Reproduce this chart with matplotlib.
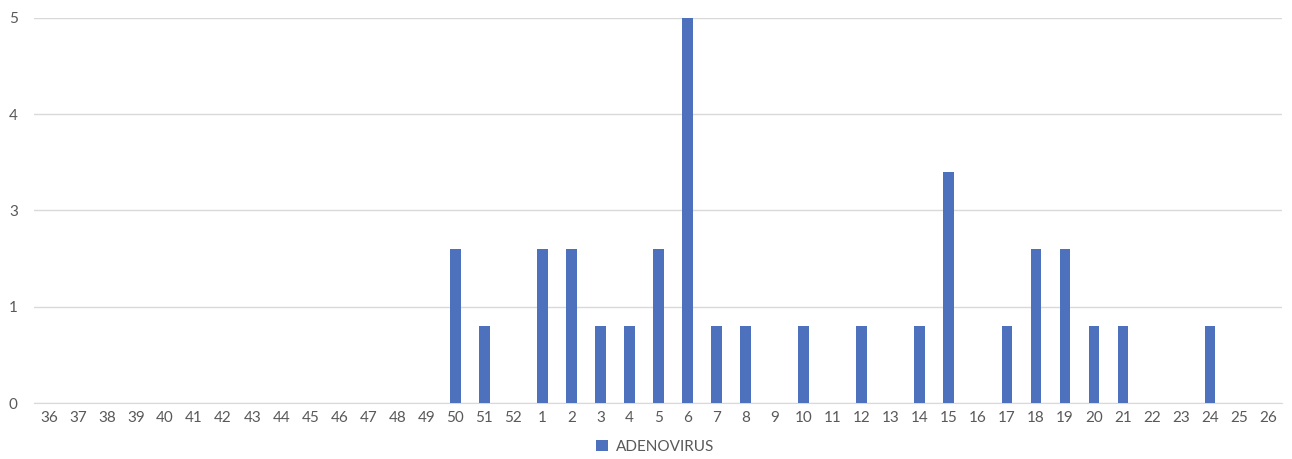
import matplotlib.pyplot as plt
import numpy as np

plt.rcParams['font.family'] = ['Lato', 'DejaVu Sans']

# weeks across the season: 36..52 then 1..26
weeks = [str(w) for w in range(36, 53)] + [str(w) for w in range(1, 27)]
counts = {"50": 2, "51": 1, "1": 2, "2": 2, "3": 1, "4": 1, "5": 2, "6": 5,
          "7": 1, "8": 1, "10": 1, "12": 1, "14": 1, "15": 3, "17": 1,
          "18": 2, "19": 2, "20": 1, "21": 1, "24": 1}
values = [counts.get(w, 0) for w in weeks]

y_ticks = [0, 1.25, 2.5, 3.75, 5]
y_labels = ["0", "1", "3", "4", "5"]

fig = plt.figure(figsize=(12.92, 4.59), dpi=100)
ax = fig.add_axes([0.0267, 0.122, 0.9659, 0.8388])

x = np.arange(len(weeks))
ax.bar(x, values, width=0.36, color="#4E71BE", label="ADENOVIRUS", zorder=3)

ax.set_xlim(-0.5, len(weeks) - 0.5)
ax.set_ylim(0, 5)
ax.set_xticks(x)
ax.set_xticklabels(weeks)
ax.set_yticks(y_ticks)
ax.set_yticklabels(y_labels)
ax.tick_params(axis="both", length=0, labelsize=11, colors="#595959")
ax.tick_params(axis="x", pad=6)
ax.tick_params(axis="y", pad=12)
ax.grid(axis="y", color="#D9D9D9", linewidth=1, zorder=0)
for side in ["top", "right", "left"]:
    ax.spines[side].set_visible(False)
ax.spines["bottom"].set_color("#D9D9D9")

fig.legend(loc="center", bbox_to_anchor=(0.507, 0.027), frameon=False,
           fontsize=11, labelcolor="#595959", handlelength=0.8,
           handleheight=0.8, handletextpad=0.5)

fig.savefig("out.png", dpi=100)
